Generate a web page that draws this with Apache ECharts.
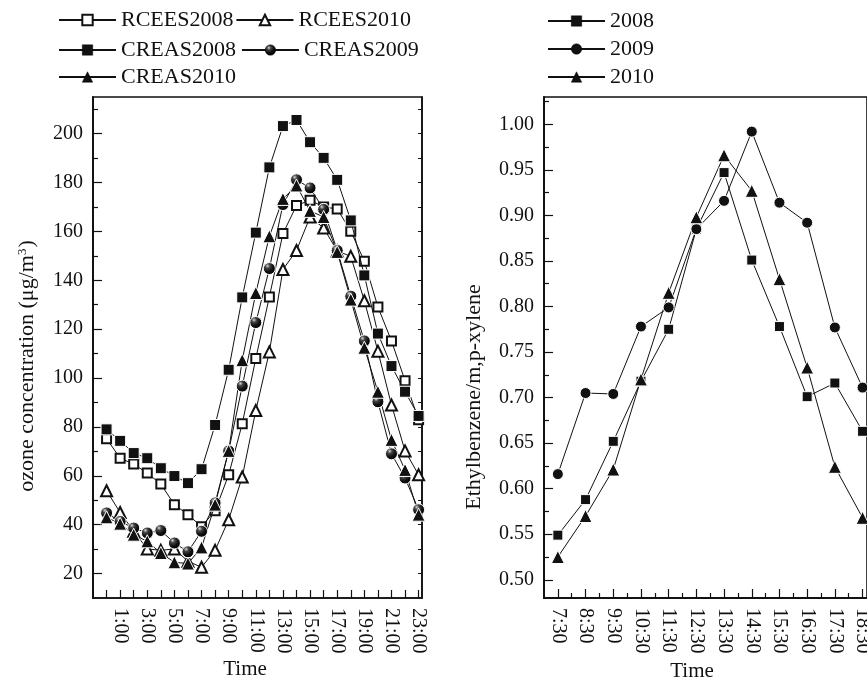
<!DOCTYPE html>
<html>
<head>
<meta charset="utf-8">
<script src="https://cdn.jsdelivr.net/npm/echarts@6.0.0/dist/echarts.min.js"></script>
<style>
  html, body { margin: 0; padding: 0; background: #fff; }
  #chart { width: 867px; height: 680px; }
</style>
</head>
<body>
<div id="chart"></div>
<script>
// left panel: ozone by hour of day
const hours = [0, 1, 2, 3, 4, 5, 6, 7, 8, 9, 10, 11, 12, 13, 14, 15, 16, 17, 18, 19, 20, 21, 22, 23];
const rcees2008 = [75.2, 67.2, 64.8, 61.1, 56.6, 48.2, 44.1, 39.2, 45.7, 60.4, 81.3, 108, 133.2, 159.1, 170.6, 172.8, 170, 169.2, 160.1, 147.8, 129.1, 115.2, 98.9, 82.9];
const rcees2010 = [53.9, 45, 37.3, 30.1, 29.5, 30.1, 25, 22.6, 29.5, 42, 59.5, 86.7, 110.7, 144.4, 152.2, 165.9, 161.4, 152, 149.8, 131.6, 111, 89, 70.2, 60.4];
const creas2008 = [79, 74.3, 69.3, 67.2, 63.1, 59.9, 57, 62.7, 80.8, 103.4, 133, 159.5, 186.2, 203.1, 205.6, 196.5, 190.1, 181.1, 164.5, 142, 118.2, 104.9, 94.4, 84.5];
const creas2009 = [44.8, 41.3, 38.6, 36.6, 37.6, 32.5, 28.9, 37.3, 48.9, 70.2, 96.7, 122.7, 144.8, 171, 181.1, 177.8, 169, 152.2, 133.5, 115.2, 90.3, 69, 59.1, 46.1];
const creas2010 = [43, 40.4, 35.9, 33.2, 28.4, 24.6, 24.1, 30.7, 48.2, 70.2, 107.3, 134.8, 158, 173.3, 178.8, 168.4, 165.9, 151.6, 132.1, 112.4, 94.4, 74.7, 62.4, 44.1];
const hourLabels = [1, 3, 5, 7, 9, 11, 13, 15, 17, 19, 21, 23];
const ozoneTicks = [20, 40, 60, 80, 100, 120, 140, 160, 180, 200];
const ozoneMinor = [30, 50, 70, 90, 110, 130, 150, 170, 190, 210];

// right panel: ethylbenzene / m,p-xylene ratio
const slots = [7.5, 8.5, 9.5, 10.5, 11.5, 12.5, 13.5, 14.5, 15.5, 16.5, 17.5, 18.5];
const ratio2008 = [0.549, 0.588, 0.652, 0.718, 0.775, 0.885, 0.947, 0.851, 0.778, 0.701, 0.716, 0.663];
const ratio2009 = [0.616, 0.705, 0.704, 0.778, 0.799, 0.885, 0.916, 0.992, 0.914, 0.892, 0.777, 0.711];
const ratio2010 = [0.525, 0.570, 0.621, 0.720, 0.815, 0.898, 0.966, 0.927, 0.830, 0.733, 0.624, 0.568];
const slotMinor = [8, 9, 10, 11, 12, 13, 14, 15, 16, 17, 18];
const ratioTicks = [0.50, 0.55, 0.60, 0.65, 0.70, 0.75, 0.80, 0.85, 0.90, 0.95, 1.00];
const ratioMinor = [0.525, 0.575, 0.625, 0.675, 0.725, 0.775, 0.825, 0.875, 0.925, 0.975, 1.025];

const FONT = "Liberation Serif";
const INK = "#111";

const ball = {
   type: "radial", x: 0.36, y: 0.3, r: 0.72,
   colorStops: [
      { offset: 0, color: "#d8d8d8" },
      { offset: 0.25, color: "#444" },
      { offset: 0.6, color: "#111" },
      { offset: 1, color: "#000" },
   ],
};

function zip(xs, ys) {
   return xs.map((x, i) => [x, ys[i]]);
}

function mkSeries(name, xs, ys, symbol, size, xi, yi, fill) {
   const empty = symbol.indexOf("empty") === 0;
   return {
      name: name,
      type: "line",
      xAxisIndex: xi,
      yAxisIndex: yi,
      data: zip(xs, ys),
      symbol: symbol,
      symbolSize: size,
      showAllSymbol: true,
      lineStyle: { color: INK, width: 1 },
      itemStyle: empty
         ? { color: INK, borderColor: INK, borderWidth: 1 }
         : { color: fill || INK, borderColor: "#fff", borderWidth: 1 },
      emphasis: { disabled: true },
      z: empty ? 3 : 4,
   };
}

function plainAxis(extra) {
   return Object.assign({
      type: "value",
      splitLine: { show: false },
      axisLine: { show: true, onZero: false, lineStyle: { color: INK, width: 1.6 } },
      axisTick: { show: true, inside: true, length: 9, lineStyle: { color: INK, width: 1.2 } },
      axisLabel: { show: false },
   }, extra);
}

function tickLabel(fmt, values, rotate) {
   return {
      show: true,
      customValues: values,
      formatter: fmt,
      fontFamily: FONT,
      fontSize: 20,
      color: INK,
      margin: 10,
      rotate: rotate || 0,
   };
}

function legendItems(names) {
   return names.map((n) => {
      const empty = n.indexOf("RCEES") === 0;
      return {
         name: n,
         itemStyle: empty ? { borderWidth: 1 } : { borderColor: "#000", borderWidth: 0.5 },
      };
   });
}

const chart = echarts.init(document.getElementById("chart"));

const legendText = { fontFamily: FONT, fontSize: 22, color: INK, lineHeight: 22 };
const legendBase = {
   itemWidth: 57,
   itemHeight: 13,
   textStyle: legendText,
   selectedMode: false,
   padding: 0,
};

chart.setOption({
   animation: false,
   backgroundColor: "#fff",
   grid: [
      { left: 93, top: 97, width: 329, height: 501, show: true, borderColor: INK, borderWidth: 1.6, outerBoundsMode: "none" },
      { left: 544, top: 97, width: 323, height: 501, show: true, borderColor: INK, borderWidth: 1.6, outerBoundsMode: "none" },
   ],
   legend: [
      Object.assign({ left: 58, top: 9, itemGap: 2, data: legendItems(["RCEES2008", "RCEES2010"]) }, legendBase),
      Object.assign({ left: 58, top: 39, itemGap: 5, data: legendItems(["CREAS2008", "CREAS2009"]) }, legendBase),
      Object.assign({ left: 58, top: 66, data: legendItems(["CREAS2010"]) }, legendBase),
      Object.assign({ left: 547, top: 10, orient: "vertical", itemGap: 6, data: legendItems(["2008", "2009", "2010"]) }, legendBase),
   ],
   xAxis: [
      plainAxis({
         gridIndex: 0, position: "bottom", min: -1, max: 23.25,
         axisTick: { show: true, inside: true, length: 8, customValues: hours, lineStyle: { color: INK, width: 1.2 } },
         axisLabel: tickLabel((v) => v + ":00", hourLabels, -90),
      }),
      plainAxis({
         gridIndex: 1, position: "bottom", min: 7, max: 18.66,
         axisTick: { show: true, inside: true, length: 9, customValues: slots, lineStyle: { color: INK, width: 1.2 } },
         axisLabel: tickLabel((v) => Math.floor(v) + ":30", slots, -90),
      }),
      plainAxis({
         gridIndex: 1, position: "bottom", min: 7, max: 18.66,
         axisTick: { show: true, inside: true, length: 5, customValues: slotMinor, lineStyle: { color: INK, width: 1.2 } },
      }),
   ],
   yAxis: [
      plainAxis({
         gridIndex: 0, position: "left", min: 10, max: 215,
         axisTick: { show: true, inside: true, length: 9, customValues: ozoneTicks, lineStyle: { color: INK, width: 1.2 } },
         axisLabel: tickLabel((v) => String(v), ozoneTicks),
      }),
      plainAxis({
         gridIndex: 0, position: "left", min: 10, max: 215,
         axisTick: { show: true, inside: true, length: 5, customValues: ozoneMinor, lineStyle: { color: INK, width: 1.2 } },
      }),
      plainAxis({
         gridIndex: 0, position: "right", min: 10, max: 215,
         axisTick: { show: true, inside: true, length: 4, customValues: ozoneTicks.concat(ozoneMinor), lineStyle: { color: INK, width: 1 } },
      }),
      plainAxis({
         gridIndex: 1, position: "left", min: 0.48, max: 1.03,
         axisTick: { show: true, inside: true, length: 9, customValues: ratioTicks, lineStyle: { color: INK, width: 1.2 } },
         axisLabel: tickLabel((v) => v.toFixed(2), ratioTicks),
      }),
      plainAxis({
         gridIndex: 1, position: "left", min: 0.48, max: 1.03,
         axisTick: { show: true, inside: true, length: 5, customValues: ratioMinor, lineStyle: { color: INK, width: 1.2 } },
      }),
   ],
   graphic: [
      {
         type: "text", x: 27, y: 366, rotation: Math.PI / 2,
         style: {
            text: "ozone concentration (μg/m{sup|3})",
            font: "22px " + FONT, fill: INK, align: "center", verticalAlign: "middle",
            rich: { sup: { fontFamily: FONT, fontSize: 13, fill: INK, verticalAlign: "top", padding: [0, 1, 0, 0] } },
         },
      },
      {
         type: "text", x: 474, y: 397, rotation: Math.PI / 2,
         style: { text: "Ethylbenzene/m,p-xylene", font: "22px " + FONT, fill: INK, align: "center", verticalAlign: "middle" },
      },
      {
         type: "text", x: 245, y: 669,
         style: { text: "Time", font: "21px " + FONT, fill: INK, align: "center", verticalAlign: "middle" },
      },
      {
         type: "text", x: 692, y: 671,
         style: { text: "Time", font: "21px " + FONT, fill: INK, align: "center", verticalAlign: "middle" },
      },
   ],
   series: [
      mkSeries("RCEES2008", hours, rcees2008, "emptyRect", 9, 0, 0),
      mkSeries("RCEES2010", hours, rcees2010, "emptyTriangle", 11, 0, 0),
      mkSeries("CREAS2008", hours, creas2008, "rect", 11, 0, 0),
      mkSeries("CREAS2009", hours, creas2009, "circle", 12, 0, 0, ball),
      mkSeries("CREAS2010", hours, creas2010, "triangle", 13, 0, 0),
      mkSeries("2008", slots, ratio2008, "rect", 10, 1, 3),
      mkSeries("2009", slots, ratio2009, "circle", 11, 1, 3),
      mkSeries("2010", slots, ratio2010, "triangle", 13, 1, 3),
   ],
});
</script>
</body>
</html>
